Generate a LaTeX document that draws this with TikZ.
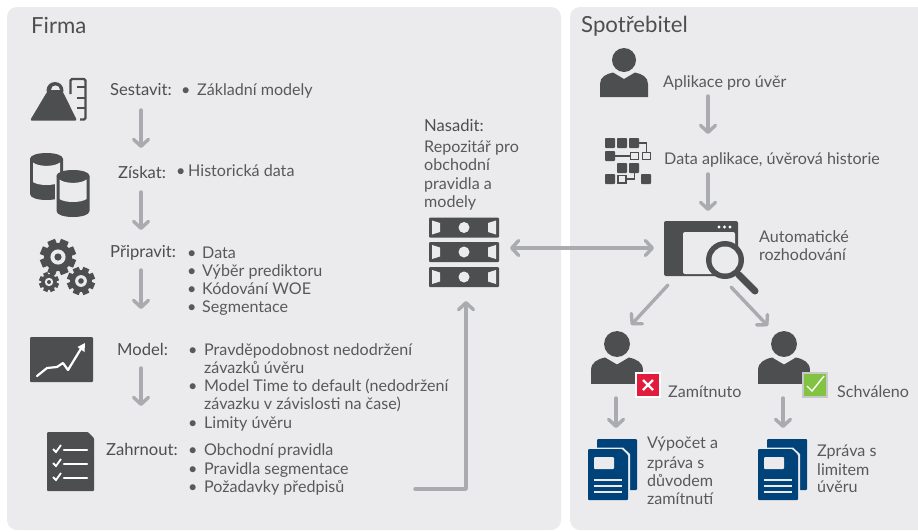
\documentclass[tikz,border=0pt]{standalone}
\usepackage{fontspec}
\setmainfont{Lato}
\usetikzlibrary{arrows.meta}
\definecolor{panel}{HTML}{EBEBED}
\definecolor{ink}{HTML}{4D4E50}
\definecolor{txtc}{HTML}{58595B}
\definecolor{arr}{HTML}{A9ABAE}
\definecolor{navy}{HTML}{00437B}
\definecolor{redb}{HTML}{E31B3C}
\definecolor{greenb}{HTML}{82C341}
\newcommand{\gearicon}[3]{%
  \fill[ink] (#1,#2) circle ({0.78*#3});
  \foreach \a in {0,45,...,315}{
    \draw[ink,line width=0.46*#3 pt,shift={(#1,#2)}] (\a+22.5:{0.6*#3}) -- (\a+22.5:{#3});
  }
  \fill[panel] (#1,#2) circle ({0.42*#3});
  \fill[ink] (#1,#2) circle ({0.2*#3});
}
\tikzset{
  x=1pt,y=-1pt,
  txt/.style={anchor=base west,inner sep=0pt,text=txtc,font=\fontsize{16.1}{18}\selectfont},
  lab/.style={txt,text=ink,font=\fontsize{16.6}{18}\selectfont},
  title/.style={anchor=base west,inner sep=0pt,text=ink,font=\fontsize{22.2}{24}\selectfont},
  flow/.style={draw=arr,line width=3.4pt,line cap=round,line join=round,-{Straight Barb[round,length=7pt,width=15pt]}},
  flowboth/.style={flow,{Straight Barb[round,length=7pt,width=15pt]}-{Straight Barb[round,length=7pt,width=15pt]}},
  person/.pic={
    \fill[ink] (0,0) circle (12);
    \fill[ink] (-24,37) -- (-24,24) .. controls (-24,17) and (-18,14) .. (-11,12.5) -- (0,19) -- (11,12.5) .. controls (18,14) and (24,17) .. (24,24) -- (24,37) -- cycle;
  },
  docicon/.pic={
    \fill[navy,rounded corners=1pt] (9,-10) rectangle (49,41);
    \fill[panel] (-1.5,-1.5) -- (35,-1.5) -- (42,5) -- (42,52) -- (-1.5,52) -- cycle;
    \fill[navy,rounded corners=1pt] (0,0) -- (34,0) -- (40,6) -- (40,51) -- (0,51) -- cycle;
    \fill[panel,rounded corners=1pt] (6,8) rectangle (26,20);
    \foreach \yy in {31,37,43} \fill[panel] (6,\yy-1) rectangle (34,\yy+1);
  },
  serverbar/.pic={
    \fill[ink,rounded corners=1pt] (0,0) rectangle (70,20);
    \fill[panel] (3,3) -- (11,5.5) -- (11,14.5) -- (3,17) -- cycle;
    \fill[panel] (67,3) -- (59,5.5) -- (59,14.5) -- (67,17) -- cycle;
    \fill[panel] (35,10) circle (5.5);
  }
}
\begin{document}
\begin{tikzpicture}
\useasboundingbox (0,0) rectangle (918,531);
\clip (0,0) rectangle (918,531);
\fill[white] (0,0) rectangle (918,531);
\fill[panel,rounded corners=10pt] (7,7) rectangle (561,530);
\fill[panel,rounded corners=10pt] (570,7) rectangle (935,530);

% titles
\node[title] (firma) at (31,33) {Firma};
\node[title] (spot) at (581,32) {Spotřebitel};

% left labels
\node[lab] (sestavit) at (110,95) {Sestavit:};
\node[txt] (b1) at (181,95) {•};
\node[txt] (t1) at (197,95) {Základní modely};
\node[lab] (ziskat) at (118,178) {Získat:};
\node[txt] (b2) at (176,176) {•};
\node[txt] (t2) at (188,176) {Historická data};
\node[lab] (pripravit) at (110,257) {Připravit:};
\node[txt] (b3a) at (187,258) {•};
\node[txt] (t3a) at (202,258) {Data};
\node[txt] (b3b) at (187,276) {•};
\node[txt] (t3b) at (202,276) {Výběr prediktoru};
\node[txt] (b3c) at (187,294) {•};
\node[txt] (t3c) at (202,294) {Kódování WOE};
\node[txt] (b3d) at (187,312) {•};
\node[txt] (t3d) at (202,312) {Segmentace};
\node[lab] (model) at (117,355) {Model:};
\node[txt] (b4a) at (188,355) {•};
\node[txt] (t4a) at (204,355) {Pravděpodobnost nedodržení};
\node[txt] (t4a2) at (204,373) {závazků úvěru};
\node[txt] (b4b) at (188,391) {•};
\node[txt] (t4b) at (204,391) {Model Time to default (nedodržení};
\node[txt] (t4b2) at (204,409) {závazku v závislosti na čase)};
\node[txt] (b4c) at (188,428) {•};
\node[txt] (t4c) at (204,428) {Limity úvěru};
\node[lab] (zahrnout) at (106,455) {Zahrnout:};
\node[txt] (b5a) at (188,455) {•};
\node[txt] (t5a) at (204,455) {Obchodní pravidla};
\node[txt] (b5b) at (188,474) {•};
\node[txt] (t5b) at (204,474) {Pravidla segmentace};
\node[txt] (b5c) at (188,492) {•};
\node[txt] (t5c) at (204,492) {Požadavky předpisů};

% nasadit
\node[lab] (nasadit) at (424,131) {Nasadit:};
\node[txt] (n1) at (424,152) {Repozitář pro};
\node[txt] (n2) at (424,170) {obchodní};
\node[txt] (n3) at (424,189) {pravidla a};
\node[txt] (n4) at (424,207) {modely};

% right text
\node[txt] (s1) at (663,87) {Aplikace pro úvěr};
\node[txt] (s2) at (664,164) {Data aplikace, úvěrová historie};
\node[txt] (s3) at (759,242) {Automatické};
\node[txt] (s3b) at (759,260) {rozhodování};
\node[txt] (zam) at (668,397) {Zamítnuto};
\node[txt] (sch) at (837,397) {Schváleno};
\node[txt] (v1) at (647,448) {Výpočet a};
\node[txt] (v2) at (647,468) {zpráva s};
\node[txt] (v3) at (647,486) {důvodem};
\node[txt] (v4) at (647,504) {zamítnutí};
\node[txt] (z1) at (817,456) {Zpráva s};
\node[txt] (z2) at (817,475) {limitem};
\node[txt] (z3) at (817,492) {úvěru};

% weight icon
\fill[ink] (55,90.5) circle (8.5);
\fill[panel] (50.5,90) .. controls (50.5,84) and (59.5,84) .. (59.5,90) -- cycle;
\fill[ink,rounded corners=1.5pt] (30,120.5) -- (47,92) -- (63,92) -- (77,120.5) -- cycle;
\draw[ink,line width=2.2pt,rounded corners=1.5pt] (70.5,94) -- (70.5,79) -- (85.5,79) -- (85.5,119.5) -- (80,119.5);
\foreach \yy in {87,98,108} \draw[ink,line width=2.2pt] (77,\yy) -- (85,\yy);

% database icon
\foreach \cx/\cy/\ol in {46.5/153/0,73/170/1}{
  \begin{scope}[shift={(\cx,\cy)}]
    \ifnum\ol=1 \fill[panel] (-18,4) rectangle (18,42); \fi
    \fill[ink] (-16.5,6) .. controls (-16.5,-2) and (16.5,-2) .. (16.5,6) -- (16.5,41) .. controls (16.5,49) and (-16.5,49) .. (-16.5,41) -- cycle;
    \fill[panel] (-13.5,9.5) .. controls (-8,14) and (8,14) .. (13.5,9.5) -- (13.5,29) .. controls (8,33) and (-8,33) .. (-13.5,29) -- cycle;
    \fill[ink] (-16.5,6) .. controls (-16.5,0) and (16.5,0) .. (16.5,6) .. controls (16.5,11) and (-16.5,11) .. (-16.5,6) -- cycle;
  \end{scope}
}

% gears
\gearicon{58}{257}{18}
\gearicon{49}{282}{10}
\gearicon{81}{281}{14}

% chart
\fill[ink,rounded corners=1pt] (30,337) rectangle (93,382);
\draw[white,line width=2.2pt,line cap=round,line join=round] (37,376) -- (47,368) -- (57,367) -- (63,363) -- (68,370) -- (82,347);
\fill[white] (85,343) -- (84.5,352) -- (77.5,347) -- cycle;

% checklist
\fill[ink,rounded corners=1pt] (47,432) -- (88,432) -- (94,438) -- (94,491) -- (47,491) -- cycle;
\foreach \yy in {450,464,478}{
  \draw[white,line width=1.8pt] (53,\yy-1) -- (56,\yy+2) -- (61,\yy-5);
  \draw[white,line width=2.6pt,line cap=round] (64,\yy) -- (87,\yy);
}

% server
\foreach \yy in {217.5,242,267} \path (429,\yy) pic {serverbar};
\coordinate (srvE) at (510,248);
\coordinate (dec) at (654,248);

% persons
\path (624,60) pic {person};
\path (617,344) pic[scale=1.08] {person};
\path (784,344) pic[scale=1.08] {person};

% data icon
\foreach \xa/\ya in {605/138,617/138,629/138,605/151,617/163,629/163,605/174,641/174}
  \fill[ink,rounded corners=.8pt] (\xa,\ya) rectangle (\xa+10,\ya+10);
\draw[ink,line width=1.4pt] (630.7,152.7) rectangle (638.3,159.3);
\draw[ink,line width=1.4pt] (642.7,152.7) rectangle (650.3,159.3);
\draw[ink,line width=1.4pt] (618,175.5) rectangle (626,183);
\draw[ink,line width=1.2pt] (615,156) -- (630,156);
\draw[ink,line width=1.2pt] (639,143) -- (646.5,143) -- (646.5,152);
\draw[ink,line width=1.2pt] (627,179) -- (634.5,179) -- (634.5,173);

% decision icon
\fill[ink,rounded corners=2pt] (664,221) rectangle (738,276);
\fill[panel,rounded corners=2pt] (683,232) rectangle (735,274);
\foreach \xx in {719,724.5,730} \fill[white] (\xx,227) circle (1.7);
\draw[ink,line width=7pt,line cap=round] (739,275) -- (755,291);
\fill[ink] (725,260) circle (19);
\fill[panel] (725,260) circle (13.5);

% badges
\draw[white,line width=1.5pt,fill=redb] (636,373) rectangle (660,397);
\draw[white,line width=2.4pt] (643,380) -- (653,390) (653,380) -- (643,390);
\draw[panel!85!black,line width=1.5pt,fill=greenb] (803,373) rectangle (827,397);
\draw[white,line width=1.4pt] (807,386) -- (812,391) -- (824,376);

% documents
\path (588,449) pic {docicon};
\path (758,449) pic {docicon};

% connectors
\coordinate (a1s) at (141,110); \coordinate (a1e) at (141,148);
\coordinate (a2s) at (141,192); \coordinate (a2e) at (141,230);
\coordinate (a3s) at (141,270); \coordinate (a3e) at (141,309);
\coordinate (a4s) at (141,368); \coordinate (a4e) at (141,406);
\coordinate (upS) at (415,489); \coordinate (upB) at (466,489); \coordinate (upE) at (466,301);
\coordinate (s1s) at (708,96); \coordinate (s1e) at (708,134);
\coordinate (s2s) at (708,174); \coordinate (s2e) at (708,211);
\coordinate (s3s) at (668,285); \coordinate (s3e) at (631,325);
\coordinate (s4s) at (731,287); \coordinate (s4e) at (768,326);
\coordinate (s5s) at (616,398); \coordinate (s5e) at (616,428);
\coordinate (s6s) at (783,398); \coordinate (s6e) at (783,428);
\draw[flow] (a1s) -- (a1e);
\draw[flow] (a2s) -- (a2e);
\draw[flow] (a3s) -- (a3e);
\draw[flow] (a4s) -- (a4e);
\draw[flow] (upS) -- (upB) -- (upE);
\draw[flowboth] (srvE) -- (dec);
\draw[flow] (s1s) -- (s1e);
\draw[flow] (s2s) -- (s2e);
\draw[flow] (s3s) -- (s3e);
\draw[flow] (s4s) -- (s4e);
\draw[flow] (s5s) -- (s5e);
\draw[flow] (s6s) -- (s6e);
\end{tikzpicture}
\end{document}
